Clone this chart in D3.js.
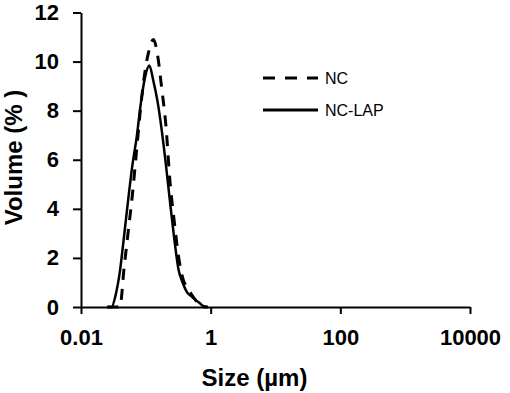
<!DOCTYPE html>
<html>
<head>
<meta charset="utf-8">
<script src="https://cdn.jsdelivr.net/npm/d3@7"></script>
<style>
  body { margin: 0; background: #fff; }
  svg { font-family: "Liberation Sans", Arial, sans-serif; }
  .axis path, .axis line { stroke: #000; stroke-width: 2; }
  .axis text { font-size: 22px; font-weight: bold; fill: #000; }
</style>
</head>
<body>
<script>
// particle size bins (um) and volume %
var sizes = [0.0255, 0.0296, 0.0343, 0.0398, 0.0462, 0.0536, 0.0622, 0.0721, 0.0837, 0.0971,
             0.113, 0.131, 0.151, 0.176, 0.204, 0.236, 0.274, 0.318, 0.369, 0.428,
             0.497, 0.576, 0.668, 0.776, 0.9];
var nc    = [0, 0, 0, 0, 1.6, 3.1, 4.6, 6.4, 8.2, 9.6,
             10.5, 10.9, 10.3, 8.9, 7.4, 5.1, 3.5, 2.1, 1.2, 0.8,
             0.55, 0.3, 0.12, 0, 0];
var ncLap = [0, 0, 0.5, 1.45, 2.9, 4.4, 5.8, 6.9, 8.3, 9.35,
             9.84, 9.2, 8.4, 7.2, 5.8, 4.28, 2.8, 1.55, 1.0, 0.62,
             0.45, 0.3, 0.17, 0.03, 0];
var xTicks = [0.01, 1, 100, 10000];
var yTicks = [0, 2, 4, 6, 8, 10, 12];

var w = 510, h = 393;
var x0 = 81, x1 = 470, y0 = 307, y1 = 12.5;

var svg = d3.select('body').append('svg')
    .attr('width', w)
    .attr('height', h);

var xScale = d3.scaleLog().domain([0.01, 10000]).range([x0, x1]);
var yScale = d3.scaleLinear().domain([0, 12]).range([y0, y1]);

var xAxis = d3.axisBottom(xScale)
    .tickValues(xTicks)
    .tickFormat(function (d) { return String(d); })
    .tickSizeInner(7)
    .tickSizeOuter(0)
    .tickPadding(15);

var yAxis = d3.axisLeft(yScale)
    .tickValues(yTicks)
    .tickSizeInner(8)
    .tickSizeOuter(0)
    .tickPadding(14);

svg.append('g')
    .attr('class', 'axis')
    .attr('transform', 'translate(0,' + y0 + ')')
    .call(xAxis);

svg.append('g')
    .attr('class', 'axis')
    .attr('transform', 'translate(' + x0 + ',0)')
    .call(yAxis);

var line = function (vals) {
  return d3.line()
    .x(function (d, i) { return xScale(sizes[i]); })
    .y(function (d) { return yScale(d); })
    .curve(d3.curveMonotoneX)(vals);
};

svg.append('path')
    .attr('d', line(nc))
    .attr('fill', 'none')
    .attr('stroke', '#000')
    .attr('stroke-width', 3)
    .attr('stroke-dasharray', '11,9');

svg.append('path')
    .attr('d', line(ncLap))
    .attr('fill', 'none')
    .attr('stroke', '#000')
    .attr('stroke-width', 2.5);

// legend
var legend = [
  {name: 'NC', dash: '12,10', y: 78},
  {name: 'NC-LAP', dash: null, y: 110}
];
legend.forEach(function (l) {
  svg.append('line')
    .attr('x1', 263).attr('x2', 318)
    .attr('y1', l.y).attr('y2', l.y)
    .attr('stroke', '#000')
    .attr('stroke-width', 3)
    .attr('stroke-dasharray', l.dash);
  svg.append('text')
    .attr('x', 325).attr('y', l.y + 6)
    .attr('font-size', 16)
    .text(l.name);
});

// axis titles
svg.append('text')
    .attr('x', 254.5).attr('y', 386)
    .attr('text-anchor', 'middle')
    .attr('font-size', 24)
    .attr('font-weight', 'bold')
    .text('Size (\u00b5m)');

svg.append('text')
    .attr('transform', 'translate(21.5,157.5) rotate(-90)')
    .attr('text-anchor', 'middle')
    .attr('font-size', 24)
    .attr('font-weight', 'bold')
    .text('Volume (% )');
</script>
</body>
</html>
